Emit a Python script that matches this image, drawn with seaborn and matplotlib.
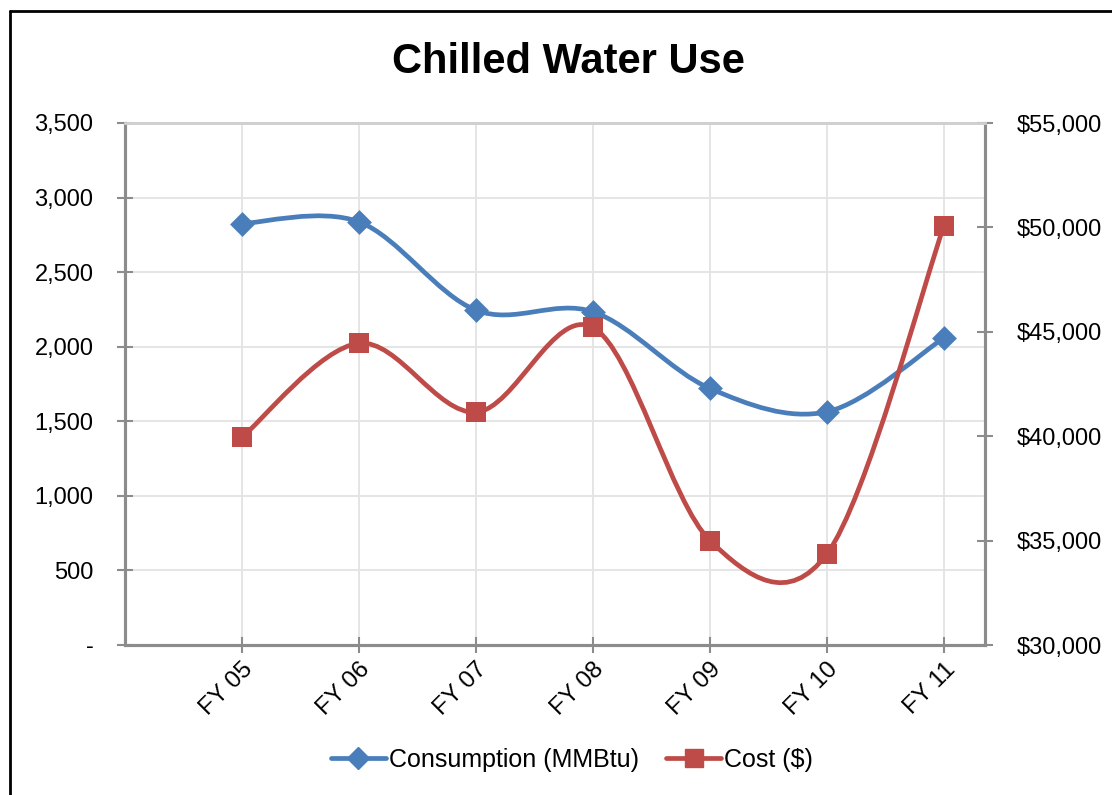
import numpy as np
import pandas as pd
import matplotlib
matplotlib.use("Agg")
import matplotlib.pyplot as plt
import seaborn as sns
from matplotlib.path import Path
from matplotlib.patches import PathPatch
from matplotlib.lines import Line2D
from matplotlib.ticker import FuncFormatter, MultipleLocator

# ---- data ----
categories = ["FY 05", "FY 06", "FY 07", "FY 08", "FY 09", "FY 10", "FY 11"]
consumption = [2826, 2837, 2245, 2234, 1720, 1564, 2060]
cost = [39950, 44450, 41150, 45210, 35000, 34370, 50090]
title = "Chilled Water Use"
series_names = ["Consumption (MMBtu)", "Cost ($)"]

BLUE = "#4A7EBB"
RED = "#BE4B48"
SPINE = "#8C8C8C"
GRID = "#E3E3E3"

sns.set_theme(style="white")
plt.rcParams["font.family"] = ["Liberation Sans", "DejaVu Sans"]
plt.rcParams["text.color"] = "black"

W, H = 1112, 795
fig = plt.figure(figsize=(W / 100, H / 100), dpi=100)
ax = fig.add_axes([125 / W, (H - 645) / H, 860 / W, 522 / H])
ax2 = ax.twinx()

df = pd.DataFrame({"cat": np.arange(len(categories)), "consumption": consumption, "cost": cost})


def smooth_path(xs, ys):
    pts = np.column_stack([xs, ys]).astype(float)
    n = len(pts)
    verts = [pts[0]]
    codes = [Path.MOVETO]
    for i in range(n - 1):
        p_prev = pts[max(i - 1, 0)]
        p0 = pts[i]
        p1 = pts[i + 1]
        p_next = pts[min(i + 2, n - 1)]
        c1 = p0 + (p1 - p_prev) / 6.0
        c2 = p1 - (p_next - p0) / 6.0
        verts += [c1, c2, p1]
        codes += [Path.CURVE4] * 3
    return Path(verts, codes)


lw = 3.4
ax.add_patch(PathPatch(smooth_path(df["cat"], df["consumption"]), fill=False,
                       edgecolor=BLUE, lw=lw, capstyle="round", joinstyle="round", zorder=3))
sns.scatterplot(data=df, x="cat", y="consumption", marker="D", s=160, color=BLUE,
                edgecolor=BLUE, linewidth=0, ax=ax, zorder=4, legend=False)

ax2.add_patch(PathPatch(smooth_path(df["cat"], df["cost"]), fill=False,
                        edgecolor=RED, lw=lw, capstyle="round", joinstyle="round", zorder=3))
sns.scatterplot(data=df, x="cat", y="cost", marker="s", s=205, color=RED,
                edgecolor=RED, linewidth=0, ax=ax2, zorder=4, legend=False)

# ---- axes ----
ax.set_xlim(-1, 6.35)
ax.set_ylim(0, 3500)
ax2.set_ylim(30000, 55000)
ax.set_xticks(range(len(categories)))
ax.set_xticklabels(categories, rotation=45, ha="right", va="top", rotation_mode="anchor")
ax.yaxis.set_major_locator(MultipleLocator(500))
ax2.yaxis.set_major_locator(MultipleLocator(5000))
ax.yaxis.set_major_formatter(FuncFormatter(lambda v, p: "-" if v == 0 else f"{v:,.0f}"))
ax2.yaxis.set_major_formatter(FuncFormatter(lambda v, p: f"${v:,.0f}"))
ax.set_xlabel("")
ax.set_ylabel("")
ax2.set_ylabel("")

ax.grid(True, color=GRID, lw=1.3, zorder=0)
ax.set_axisbelow(True)
ax2.patch.set_visible(False)

for a in (ax, ax2):
    for s in ("left", "right", "bottom"):
        a.spines[s].set_color(SPINE)
        a.spines[s].set_linewidth(2.2)
    a.spines["top"].set_color("#D0D0D0")
    a.spines["top"].set_linewidth(2.0)

ax.tick_params(axis="y", which="major", direction="inout", length=11.5, width=1.5,
               color=SPINE, pad=17, labelsize=17, labelcolor="black", left=True)
ax.tick_params(axis="x", which="major", direction="inout", length=11.5, width=1.5,
               color=SPINE, pad=4, labelsize=17.5, labelcolor="black", bottom=True)
ax2.tick_params(axis="y", which="major", direction="inout", length=11.5, width=1.5,
                color=SPINE, pad=17, labelsize=17, labelcolor="black", right=True)

# ---- title ----
fig.text(568 / W, 1 - 62 / H, title, ha="center", va="center", fontsize=30,
         fontweight="bold", color="black")

# ---- legend ----
handles = [
    Line2D([], [], color=BLUE, lw=lw, marker="D", markersize=11, solid_capstyle="round"),
    Line2D([], [], color=RED, lw=lw, marker="s", markersize=12.5, solid_capstyle="round"),
]
fig.legend(handles, series_names, loc="center", bbox_to_anchor=(572 / W, 1 - 760 / H),
           ncol=2, frameon=False, fontsize=18, handlelength=2.2, handletextpad=0.12,
           columnspacing=1.1, labelcolor="black")

# ---- outer border (chart area, cropped at right/bottom) ----
fig.add_artist(Line2D([10 / W, 10 / W], [0, 1 - 11 / H], color="black", lw=2,
                      transform=fig.transFigure))
fig.add_artist(Line2D([10 / W, 1], [1 - 11 / H, 1 - 11 / H], color="black", lw=2,
                      transform=fig.transFigure))

fig.savefig("out.png", dpi=100)
